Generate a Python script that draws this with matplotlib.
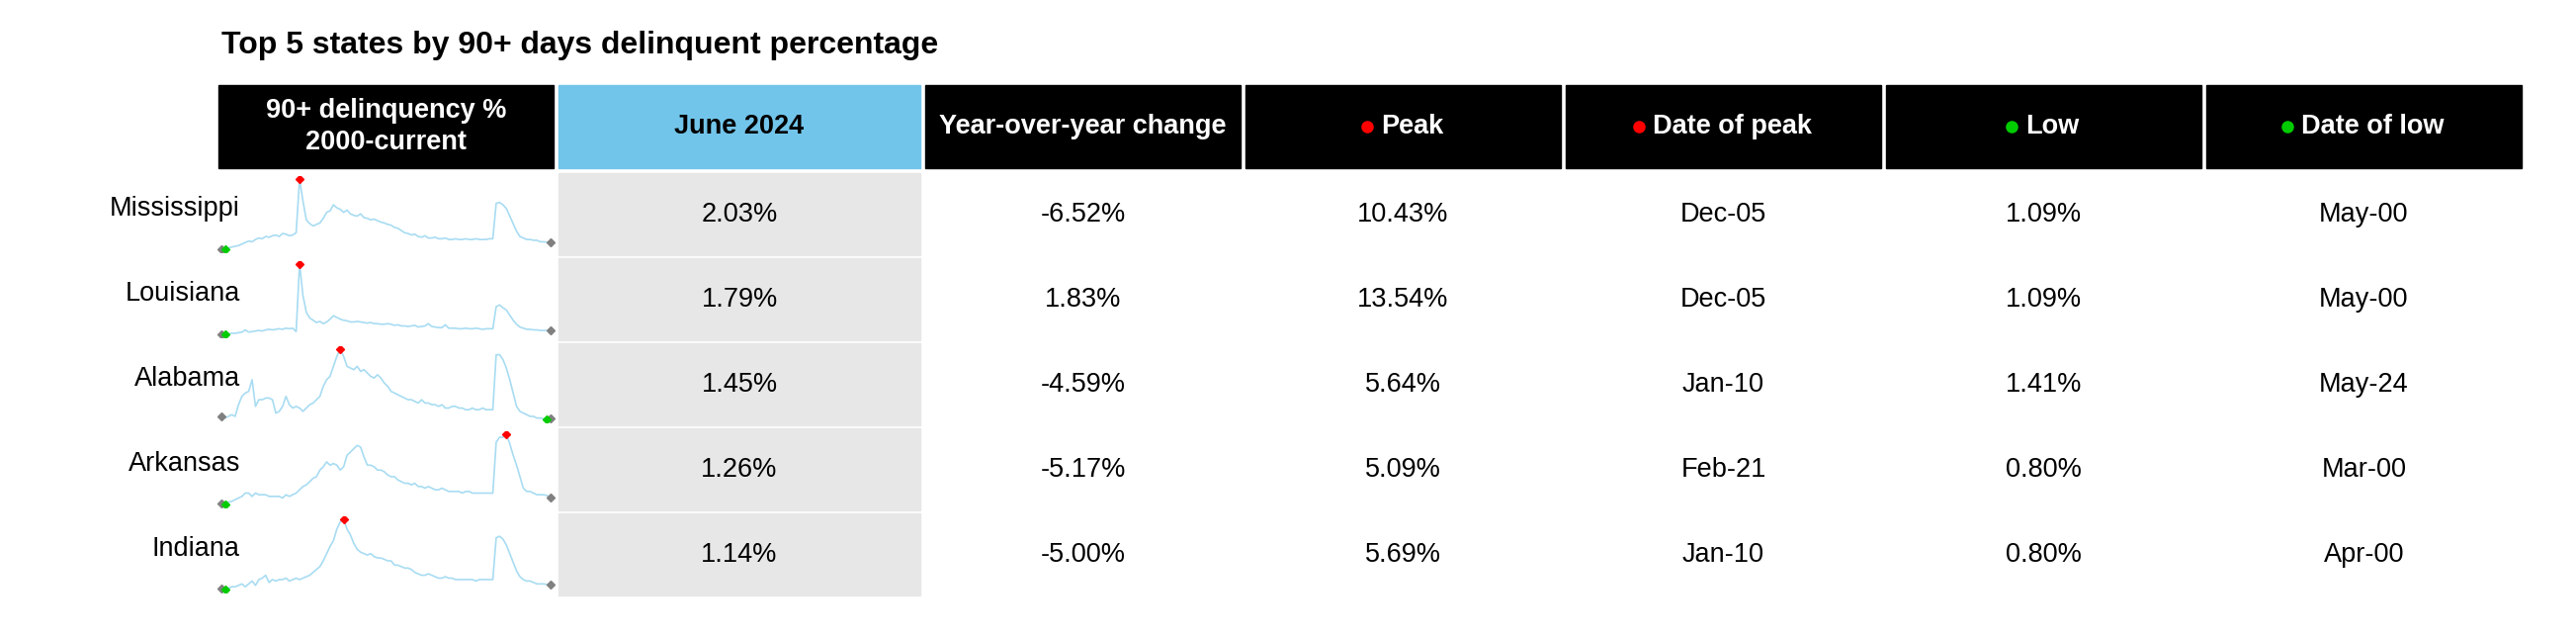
import matplotlib
matplotlib.use("Agg")
import matplotlib.pyplot as plt
from matplotlib.patches import Rectangle
import numpy as np

plt.rcParams["font.family"] = "Liberation Sans"

title = "Top 5 states by 90+ days delinquent percentage"
headers = ["90+ delinquency %\n2000-current", "June 2024", "Year-over-year change",
           "Peak", "Date of peak", "Low", "Date of low"]
states = ["Mississippi", "Louisiana", "Alabama", "Arkansas", "Indiana"]
june_2024 = ["2.03%", "1.79%", "1.45%", "1.26%", "1.14%"]
yoy = ["-6.52%", "1.83%", "-4.59%", "-5.17%", "-5.00%"]
peak = ["10.43%", "13.54%", "5.64%", "5.09%", "5.69%"]
peak_date = ["Dec-05", "Dec-05", "Jan-10", "Feb-21", "Jan-10"]
low = ["1.09%", "1.09%", "1.41%", "0.80%", "0.80%"]
low_date = ["May-00", "May-00", "May-24", "Mar-00", "Apr-00"]

# quarterly estimates 2000Q1 .. 2024Q2
mississippi = [1.15,1.09,1.3,1.4, 1.5,1.6,1.8,2.0, 2.2,2.1,2.4,2.6, 2.5,2.8,2.7,2.9,
               3.0,2.8,3.2,3.1, 2.9,3.0,3.3,10.43, 7.5,5.0,4.5,4.2, 4.4,4.6,5.2,6.0,
               6.2,7.0,6.6,6.4, 6.0,6.3,5.8,5.6, 5.5,5.8,5.3,5.2, 5.0,5.1,4.9,4.7,
               4.6,4.4,4.3,4.0, 3.9,3.6,3.3,3.2, 3.0,3.1,2.8,2.7, 2.9,2.6,2.6,2.7,
               2.5,2.5,2.6,2.4, 2.4,2.5,2.4,2.4, 2.5,2.4,2.4,2.5, 2.4,2.4,2.4,2.5,
               2.5,7.2,7.3,7.0, 6.5,5.5,4.5,3.5, 2.8,2.6,2.4,2.4, 2.3,2.3,2.1,2.1, 2.05,2.03]
louisiana = [1.12,1.09,1.2,1.3, 1.3,1.4,1.5,1.9, 1.5,1.6,1.7,1.8, 1.7,1.9,2.0,1.9,
             2.0,2.1,2.0,2.2, 2.1,2.2,1.6,13.54, 8.0,5.0,4.0,3.6, 3.2,3.4,3.0,3.3,
             3.8,4.4,4.1,3.8, 3.6,3.5,3.3,3.3, 3.4,3.3,3.2,3.1, 3.2,3.0,3.0,2.9,
             2.9,3.0,2.9,2.7, 2.8,2.6,2.6,2.5, 2.6,2.7,2.4,2.5, 2.6,3.0,2.5,2.4,
             2.3,2.3,2.8,2.2, 2.2,2.2,2.1,2.1, 2.2,2.1,2.1,2.2, 2.1,2.0,2.1,2.1,
             2.1,6.0,6.3,5.8, 5.4,4.5,3.6,2.9, 2.4,2.2,2.0,2.0, 1.9,1.9,1.8,1.8, 1.8,1.79]
alabama = [1.6,1.5,1.6,1.7, 1.6,2.3,2.8,3.0, 3.1,3.8,2.2,2.6, 2.6,2.7,2.7,2.6,
           1.8,1.9,2.2,2.8, 2.3,2.1,2.2,2.1, 1.9,2.1,2.3,2.4, 2.6,2.8,3.4,3.8,
           4.0,4.6,5.2,5.64, 5.2,4.6,4.5,4.4, 4.6,4.3,4.4,4.2, 4.0,3.9,4.1,3.9,
           3.6,3.4,3.1,3.0, 2.9,2.8,2.7,2.6, 2.6,2.5,2.4,2.6, 2.4,2.4,2.3,2.3,
           2.2,2.3,2.1,2.1, 2.2,2.2,2.1,2.1, 2.0,2.0,2.1,2.0, 2.0,2.1,2.0,2.0,
           2.0,5.3,5.3,5.0, 4.5,3.8,3.0,2.2, 1.9,1.8,1.7,1.6, 1.6,1.5,1.5,1.45, 1.41,1.45]
arkansas = [0.85,0.80,0.95,1.0, 1.1,1.2,1.3,1.5, 1.5,1.3,1.5,1.4, 1.4,1.4,1.3,1.3,
            1.3,1.3,1.2,1.4, 1.3,1.4,1.5,1.7, 1.9,2.0,2.2,2.4, 2.5,2.9,3.1,3.4,
            3.2,3.3,3.2,2.9, 3.1,3.8,4.0,4.2, 4.4,4.3,3.7,3.2, 3.2,3.1,2.9,2.9,
            2.8,2.6,2.5,2.5, 2.3,2.2,2.1,2.1, 2.0,2.1,1.9,1.9, 1.8,1.9,1.8,1.7,
            1.7,1.8,1.7,1.6, 1.6,1.6,1.6,1.5, 1.6,1.6,1.5,1.5, 1.5,1.5,1.5,1.5,
            1.5,4.6,4.9,4.9, 5.09,4.5,3.8,3.2, 2.5,1.8,1.6,1.6, 1.5,1.4,1.4,1.4, 1.35,1.26]
indiana = [0.85,0.80,0.9,1.0, 1.0,1.1,1.2,1.0, 1.2,1.4,1.1,1.5, 1.6,1.8,1.3,1.5,
           1.4,1.5,1.5,1.6, 1.4,1.5,1.6,1.5, 1.6,1.7,1.8,2.0, 2.2,2.4,2.8,3.3,
           3.8,4.2,5.0,5.5, 5.69,5.0,4.6,4.0, 3.6,3.4,3.3,3.2, 3.3,3.1,3.0,3.0,
           2.9,2.8,2.8,2.5, 2.5,2.4,2.3,2.3, 2.2,2.0,1.9,1.8, 1.8,1.9,1.8,1.7,
           1.6,1.6,1.7,1.6, 1.6,1.5,1.5,1.5, 1.5,1.5,1.5,1.4, 1.5,1.5,1.5,1.5,
           1.5,4.4,4.5,4.3, 3.9,3.3,2.7,2.1, 1.7,1.5,1.4,1.4, 1.3,1.2,1.2,1.2, 1.15,1.14]
series = [mississippi, louisiana, alabama, arkansas, indiana]

W, H = 2606, 644
fig = plt.figure(figsize=(W / 100, H / 100), dpi=100)
ax = fig.add_axes([0, 0, 1, 1])
ax.set_xlim(0, W); ax.set_ylim(H, 0); ax.axis("off")

ax.text(224, 46, title, fontsize=23, fontweight="bold", va="center", ha="left")

col_x = [221, 565, 936, 1260, 1584, 1908, 2232]
col_w = [339, 366, 319, 319, 319, 319, 319]
head_y, head_h = 86, 84
row_y0, row_h, gap = 175, 83, 3

fs = 19.5
for i, (x, w, h) in enumerate(zip(col_x, col_w, headers)):
    fc = "#72C5EA" if i == 1 else "black"
    tc = "black" if i == 1 else "white"
    ax.add_patch(Rectangle((x, head_y), w, head_h, color=fc))
    cx, cy = x + w / 2, head_y + head_h / 2
    if i in (3, 4, 5, 6):
        dot = "red" if i in (3, 4) else "#00CC00"
        t = ax.text(cx + 9, cy, h, color=tc, fontsize=fs, fontweight="bold", ha="center", va="center")
        fig.canvas.draw()
        bb = t.get_window_extent().transformed(ax.transData.inverted())
        ax.plot(bb.x0 - 14, cy, "o", color=dot, ms=8)
    else:
        ax.text(cx, cy, h, color=tc, fontsize=fs, fontweight="bold", ha="center",
                va="center", linespacing=1.3)

cols = [june_2024, yoy, peak, peak_date, low, low_date]
for r, st in enumerate(states):
    y = row_y0 + r * (row_h + gap)
    cy = y + row_h / 2
    ax.text(243, cy - 6, st, fontsize=fs, ha="right", va="center")
    ax.add_patch(Rectangle((col_x[1], y), col_w[1], row_h, color="#E7E7E7"))
    for c, vals in enumerate(cols):
        ax.text(col_x[c + 1] + col_w[c + 1] / 2, cy, vals[r], fontsize=fs, ha="center", va="center")
    # sparkline
    s = np.array(series[r])
    sx0, sx1 = 219, 562
    sy0, sy1 = y + 3, y + row_h - 3
    sax = fig.add_axes([sx0 / W, 1 - sy1 / H, (sx1 - sx0) / W, (sy1 - sy0) / H])
    sax.axis("off")
    xs = np.arange(len(s))
    sax.plot(xs, s, color="#A8DCF2", lw=1.2)
    sax.plot(xs[0], s[0], "D", color="gray", ms=4.5)
    sax.plot(xs[-1], s[-1], "D", color="gray", ms=4.5)
    sax.plot(xs[s.argmin()], s.min(), "D", color="#00CC00", ms=4.5)
    sax.plot(xs[s.argmax()], s.max(), "D", color="red", ms=4.5)
    sax.set_xlim(-1.5, len(s) + 0.5)
    pad = (s.max() - s.min()) * 0.04
    sax.set_ylim(s.min() - pad, s.max() + pad)

fig.savefig("out.png", dpi=100)
